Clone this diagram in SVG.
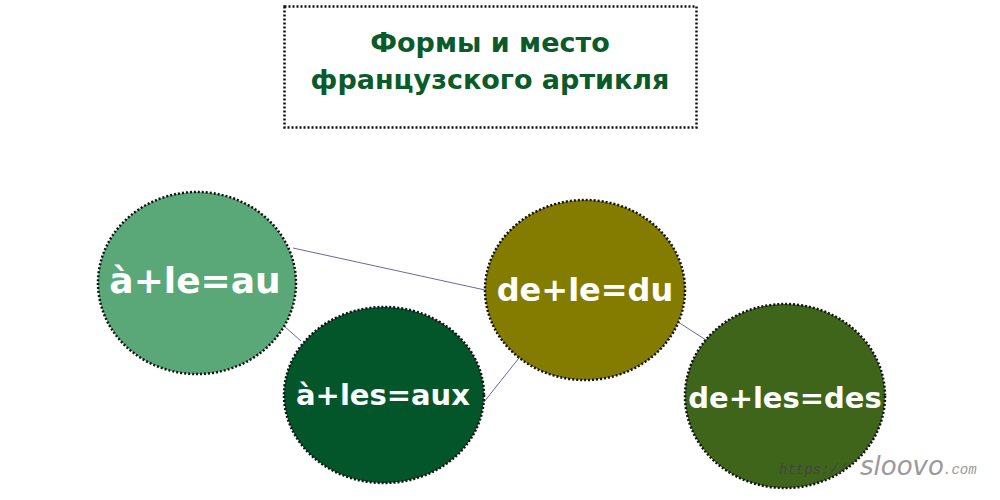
<svg xmlns="http://www.w3.org/2000/svg" width="1000" height="500" viewBox="0 0 1000 500">
<style>
.node{stroke:#111;stroke-width:2.5;stroke-dasharray:2 2}
.lbl{font-family:"DejaVu Sans",Verdana,sans-serif;font-weight:bold;fill:#fff;text-anchor:middle}
.title{font-family:"DejaVu Sans",Verdana,sans-serif;font-weight:bold;fill:#0b5a2a;text-anchor:middle;font-size:27px}
.conn line{stroke:#6a6a9a;stroke-width:1}
</style>
<rect width="1000" height="500" fill="#fff"/>
<g id="title">
<rect x="284.5" y="6.5" width="412" height="121" fill="#fff" stroke="#111" stroke-width="2.5" stroke-dasharray="2 2"/>
<text class="title" x="490" y="52">Формы и место</text>
<text class="title" x="490" y="89">французского артикля</text>
</g>
<g class="conn" id="connectors">
<line x1="293" y1="248" x2="485" y2="290"/>
<line x1="284" y1="326" x2="301" y2="341"/>
<line x1="484" y1="402" x2="519" y2="358"/>
<line x1="678" y1="322" x2="706" y2="340"/>
</g>
<g id="n1">
<ellipse class="node" cx="197" cy="283" rx="99" ry="91" fill="#5aa877"/>
<text class="lbl" x="195" y="293" font-size="36">à+le=au</text>
</g>
<g id="n2">
<ellipse class="node" cx="384" cy="395" rx="100" ry="88" fill="#03562a"/>
<text class="lbl" x="383" y="405" font-size="29">à+les=aux</text>
</g>
<g id="n3">
<ellipse class="node" cx="585" cy="290" rx="100" ry="90" fill="#847c00"/>
<text class="lbl" x="585" y="301" font-size="32">de+le=du</text>
</g>
<g id="n4">
<ellipse class="node" cx="785" cy="396" rx="100" ry="92" fill="#3f651b"/>
<text class="lbl" x="785" y="408" font-size="29">de+les=des</text>
</g>
<g id="watermark" font-style="italic">
<text x="779" y="474" font-family="'Liberation Mono',monospace" font-size="14" fill="#444">https://</text>
<text x="860" y="475" font-family="'DejaVu Sans',sans-serif" font-size="26" fill="#9a9a9a">sloovo</text>
<text x="943" y="474" font-family="'Liberation Mono',monospace" font-size="14" fill="#9a9a9a">.com</text>
</g>
</svg>
